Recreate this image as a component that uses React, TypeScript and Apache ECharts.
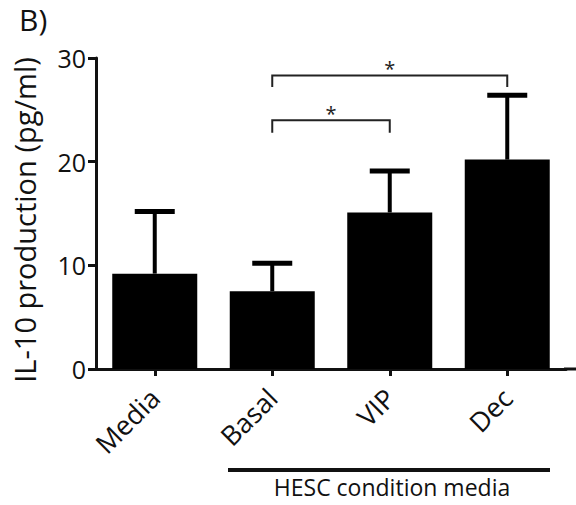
import React, { useEffect, useRef } from "react";
import * as echarts from "echarts";

const categories = ["Media", "Basal", "VIP", "Dec"];
const means = [9.2, 7.5, 15.1, 20.2];
const errorTops = [15.2, 10.2, 19.1, 26.4];
const yTicks = [0, 10, 20, 30];
// brackets: [fromIndex, toIndex, bracketValue, legValue, label]
const brackets: [number, number, number, number, string][] = [
  [1, 3, 28.3, 27.2, "*"],
  [1, 2, 24.0, 22.8, "*"],
];
const groupLabel = "HESC condition media";
const yAxisTitle = "IL-10 production (pg/ml)";
const panelLabel = "B)";

const FONT = "'Open Sans', 'DejaVu Sans', sans-serif";
const INK = "#111";

export default function App() {
  const ref = useRef<HTMLDivElement>(null);
  useEffect(() => {
    if (!ref.current) return;
    const chart = echarts.init(ref.current, undefined, { renderer: "svg" });
    const option: any = {
      animation: false,
      grid: { left: 96, right: 10, top: 58, bottom: 136, containLabel: false },
      xAxis: {
        type: "category",
        data: categories,
        axisLine: { show: true, lineStyle: { color: INK, width: 3 } },
        axisTick: { show: true, alignWithLabel: true, length: 7, lineStyle: { color: INK, width: 3 } },
        axisLabel: { rotate: 45, fontSize: 27, color: INK, fontFamily: FONT, margin: 24 },
      },
      yAxis: {
        type: "value",
        min: yTicks[0],
        max: yTicks[yTicks.length - 1],
        interval: 10,
        axisLine: { show: true, lineStyle: { color: INK, width: 3 } },
        axisTick: { show: true, length: 8, lineStyle: { color: INK, width: 3 } },
        axisLabel: { fontSize: 25, color: INK, fontFamily: FONT, margin: 10 },
        splitLine: { show: false },
      },
      graphic: [
        { type: "text", left: 19, top: 4, style: { text: panelLabel, fontSize: 30, fill: INK, fontFamily: FONT } },
        {
          type: "text",
          x: 24,
          y: 220,
          rotation: Math.PI / 2,
          style: { text: yAxisTitle, fontSize: 29, fill: INK, fontFamily: FONT, align: "center", verticalAlign: "middle" },
        },
        { type: "line", shape: { x1: 564, y1: 369, x2: 576, y2: 369 }, style: { stroke: INK, lineWidth: 3 } },
        { type: "line", shape: { x1: 228, y1: 470, x2: 550, y2: 470 }, style: { stroke: INK, lineWidth: 4 } },
        {
          type: "text",
          x: 392,
          y: 487,
          style: { text: groupLabel, fontSize: 23, fill: INK, fontFamily: FONT, align: "center", verticalAlign: "middle" },
        },
      ],
      series: [
        {
          type: "bar",
          data: means,
          barWidth: 85,
          itemStyle: { color: "#000" },
          z: 2,
        },
        {
          type: "custom",
          z: 3,
          data: means.map((m, i) => [i, m, errorTops[i]]),
          renderItem: (params: any, api: any) => {
            const i = api.value(0);
            const base = api.coord([i, api.value(1)]);
            const top = api.coord([i, api.value(2)]);
            return {
              type: "group",
              children: [
                { type: "line", shape: { x1: base[0], y1: base[1], x2: top[0], y2: top[1] }, style: { stroke: "#000", lineWidth: 4 } },
                { type: "line", shape: { x1: top[0] - 20, y1: top[1], x2: top[0] + 20, y2: top[1] }, style: { stroke: "#000", lineWidth: 5 } },
              ],
            };
          },
        },
        {
          type: "custom",
          z: 3,
          data: brackets.map((b) => [b[0], b[1], b[2], b[3]]),
          renderItem: (params: any, api: any) => {
            const b = brackets[params.dataIndex];
            const a1 = api.coord([api.value(0), api.value(3)]);
            const a2 = api.coord([api.value(0), api.value(2)]);
            const b2 = api.coord([api.value(1), api.value(2)]);
            const b1 = api.coord([api.value(1), api.value(3)]);
            return {
              type: "group",
              children: [
                {
                  type: "polyline",
                  shape: { points: [a1, a2, b2, b1] },
                  style: { stroke: "#222", lineWidth: 2, fill: "none" },
                },
                {
                  type: "text",
                  x: (a2[0] + b2[0]) / 2,
                  y: a2[1] + 3,
                  style: { text: b[4], fontSize: 20, fill: "#222", fontFamily: FONT, align: "center", verticalAlign: "bottom" },
                },
              ],
            };
          },
        },
      ],
    };
    chart.setOption(option);
    return () => chart.dispose();
  }, []);
  return <div ref={ref} style={{ position: "absolute", left: 0, top: 0, width: 576, height: 505 }} />;
}
